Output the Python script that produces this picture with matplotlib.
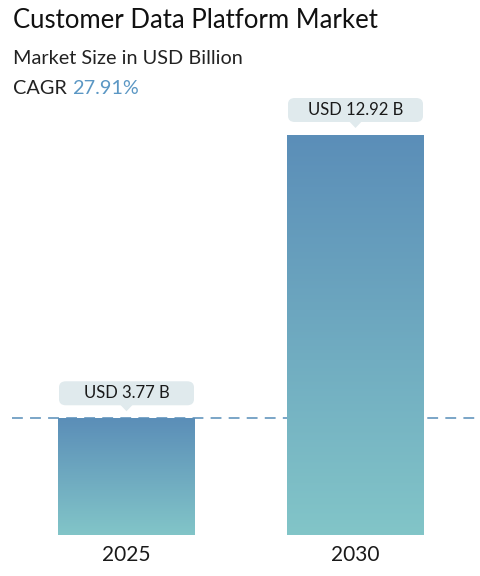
import matplotlib
matplotlib.use("Agg")
import matplotlib.pyplot as plt
import numpy as np
from matplotlib.colors import LinearSegmentedColormap
from matplotlib.patches import FancyBboxPatch, Polygon

years = ["2025", "2030"]
values = [3.77, 12.92]
labels = ["USD 3.77 B", "USD 12.92 B"]
title = "Customer Data Platform Market"
subtitle = "Market Size in USD Billion"
cagr = "27.91%"

plt.rcParams['font.family'] = ['Lato', 'DejaVu Sans']

W, H = 481, 576
fig = plt.figure(figsize=(W / 100, H / 100), dpi=100)
fig.patch.set_facecolor("white")

# axes mapped to pixel layout
bottom_px, top_px = 535, 135
ax = fig.add_axes([0, (H - bottom_px) / H, 1, (bottom_px - top_px) / H])
unit = 229.0
width = 137.0 / unit
xl = -126.5 / unit
xr = (W - 126.5) / unit
ax.set_xlim(xl, xr)
ax.set_ylim(0, max(values))
ax.axis("off")

cmap = LinearSegmentedColormap.from_list("g", ["#82c5c8", "#5b8eb8"])
grad = np.linspace(0, 1, 256).reshape(-1, 1)

for i, v in enumerate(values):
    ax.imshow(grad, extent=[i - width / 2, i + width / 2, 0, v], origin="lower",
              aspect="auto", cmap=cmap, zorder=2)

ax.set_xlim(xl, xr)
ax.set_ylim(0, max(values))

# dashed reference line at first value
ax.plot([xl + 12 / unit, xr - 6 / unit], [values[0], values[0]], ls=(0, (6, 4)),
        color="#6f9ec3", lw=1.3, zorder=1, clip_on=False)

# label boxes
ypx = (bottom_px - top_px) / max(values)  # px per unit
for i, (v, lab) in enumerate(zip(values, labels)):
    box_w = 135 / unit
    box_h = 24 / ypx
    gap = 13 / ypx
    y0 = v + gap
    bx = FancyBboxPatch((i - box_w / 2, y0), box_w, box_h,
                        boxstyle="round,pad=0,rounding_size=0.03",
                        mutation_aspect=box_h / (box_w) * 5,
                        fc="#e0eaed", ec="none", zorder=4, clip_on=False)
    ax.add_patch(bx)
    tri = Polygon([[i - 6 / unit, y0 + 0.01], [i + 6 / unit, y0 + 0.01], [i, y0 - 6 / ypx]],
                  closed=True, fc="#e0eaed", ec="none", zorder=4, clip_on=False)
    ax.add_patch(tri)
    ax.text(i, y0 + box_h / 2, lab, ha="center", va="center", fontsize=12,
            color="#1a1a1a", zorder=5, clip_on=False)
    ax.text(i, -20 / ypx, years[i], ha="center", va="center", fontsize=15,
            color="#1a1a1a", clip_on=False)

fig.text(13 / W, 1 - 21 / H, title, fontsize=18.5, ha="left", va="center", color="#111111")
fig.text(13 / W, 1 - 58 / H, subtitle, fontsize=14.3, ha="left", va="center", color="#222222")
t = fig.text(13 / W, 1 - 89 / H, "CAGR ", fontsize=14.3, ha="left", va="center", color="#222222")
fig.canvas.draw()
bb = t.get_window_extent()
fig.text(bb.x1 / W, 1 - 89 / H, cagr, fontsize=14.3, ha="left", va="center", color="#5b97c4")

fig.savefig("out.png", dpi=100)
